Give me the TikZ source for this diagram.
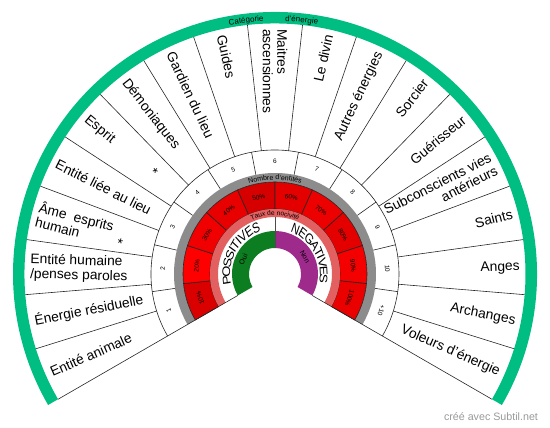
\documentclass[tikz,border=0pt]{standalone}
\usepackage{fontspec}
\setmainfont{Liberation Sans}
\usepackage{tikz}
\usetikzlibrary{decorations.text}

\definecolor{catgreen}{RGB}{0,190,130}
\definecolor{ouigreen}{RGB}{12,125,32}
\definecolor{nonpurple}{RGB}{158,42,140}
\definecolor{bandgray}{RGB}{140,140,140}
\definecolor{nocpink}{RGB}{226,96,96}

\begin{document}
\begin{tikzpicture}[x=1pt, y=1pt,
  thinline/.style={draw=black!85, line width=0.6pt},
  catlabel/.style={inner sep=1pt, font=\fontsize{13.8}{14.5}\selectfont},
  small/.style={inner sep=0.5pt, font=\fontsize{6.5}{7}\selectfont},
  bigletter/.style={inner sep=0pt, anchor=base, font=\fontsize{11}{12}\selectfont, yscale=1.3},
  arctext/.style={decorate, decoration={text along path, text align=center, text={#1}}}]
  \useasboundingbox (-275,-154) rectangle (275,274);
  % outer green band
  \fill[catgreen] (210:250.5) arc[start angle=210, end angle=-30, radius=250.5]
    -- (-30:262) arc[start angle=-30, end angle=210, radius=262] -- cycle;
  % category sectors (19)
  \foreach \i in {1,...,18}{
    \pgfmathsetmacro{\angA}{210-\i*240/19}
    \draw[thinline] (\angA:124) -- (\angA:250.5);
  }
  \draw[thinline] (210:124) arc[start angle=210, end angle=-30, radius=124];
  % number ring (11)
  \foreach \i in {1,...,10}{
    \pgfmathsetmacro{\angA}{210-\i*240/11}
    \draw[thinline] (\angA:101) -- (\angA:124);
  }
  % gray band
  \fill[bandgray] (210:92) arc[start angle=210, end angle=-30, radius=92]
    -- (-30:101) arc[start angle=-30, end angle=210, radius=101] -- cycle;
  % red sectors (10)
  \foreach \shade/\lbl [count=\i from 0] in {red!86!black/10\%, red/20\%, red!94!black/30\%,
      red!91!black/40\%, red!84!black/50\%, red!90!black/60\%, red!93!black/70\%,
      red!90!black/80\%, red!96!black/90\%, red!92!black/100\%}{
    \pgfmathsetmacro{\angA}{210-\i*24}
    \pgfmathsetmacro{\angB}{210-(\i+1)*24}
    \pgfmathsetmacro{\angM}{210-(\i+0.5)*24}
    \filldraw[thinline, fill=\shade] (\angA:65) -- (\angA:92)
      arc[start angle=\angA, end angle=\angB, radius=92] -- (\angB:65)
      arc[start angle=\angB, end angle=\angA, radius=65] -- cycle;
    \node[small, rotate=\angM-90] (pct\i) at (\angM:78.5) {\lbl};
  }
  % pink band
  \fill[nocpink] (210:57) arc[start angle=210, end angle=-30, radius=57]
    -- (-30:65) arc[start angle=-30, end angle=210, radius=65] -- cycle;
  % Oui / Non
  \fill[ouigreen] (210:26) arc[start angle=210, end angle=90, radius=26]
    -- (90:43) arc[start angle=90, end angle=210, radius=43] -- cycle;
  \fill[nonpurple] (90:26) arc[start angle=90, end angle=-30, radius=26]
    -- (-30:43) arc[start angle=-30, end angle=90, radius=43] -- cycle;
  \draw[thinline, draw=black!70] (90:26) -- (90:57);
  % fan edges
  \draw[thinline] (210:43) -- (210:250.5);
  \draw[thinline] (-30:43) -- (-30:250.5);

  % numbers
  \foreach \lbl [count=\i from 0] in {1,2,3,4,5,6,7,8,9,10,+10}{
    \pgfmathsetmacro{\ang}{210-(\i+0.5)*240/11}
    \node[small, rotate=\ang-90] (num\i) at (\ang:112.5) {\lbl};
  }
  % category labels, left half
  \foreach \lbl [count=\i from 0] in {{Entité animale}, {Énergie résiduelle},
      {Entité humaine\\/penses paroles}, {Âme~ esprits\\humain\hspace{39pt}*},
      {Entité liée au lieu}, {Esprit\hspace{49pt}*}, {Démoniaques},
      {Gardien du lieu}, {Guides}, {Maitres\\ascensionnes}}{
    \pgfmathsetmacro{\ang}{210-(\i+0.5)*240/19}
    \node[catlabel, anchor=west, align=left, rotate=\ang-180] (cat\i) at (\ang:246) {\lbl};
  }
  % category labels, right half
  \foreach \lbl [count=\i from 10] in {{Le divin}, {Autres énergies}, {Sorcier},
      {Guérisseur}, {Subconscients vies\\antérieurs}, {Saints}, {Anges},
      {Archanges}, {Voleurs d'énergie}}{
    \pgfmathsetmacro{\ang}{210-(\i+0.5)*240/19}
    \node[catlabel, anchor=east, align=right, rotate=\ang] (cat\i) at (\ang:246) {\lbl};
  }

  % texts along the rings
  \path[arctext={|\fontsize{8}{8}\selectfont|Catégorie}]
    (106.5:253) arc[start angle=106.5, end angle=86.5, radius=253];
  \path[arctext={|\fontsize{8}{8}\selectfont|d'énergie}]
    (94:253) arc[start angle=94, end angle=74, radius=253];
  \path[arctext={|\fontsize{7}{7}\selectfont|Nombre d'entités}]
    (125:94) arc[start angle=125, end angle=55, radius=94];
  \path[arctext={|\fontsize{6.6}{7}\selectfont|Taux de nocivité}]
    (130:58.5) arc[start angle=130, end angle=50, radius=58.5];
  % POSSITIVES / NEGATIVES, letter by letter
  \foreach \ch/\ang [count=\i] in {P/186.97, O/176.85, S/166.73, S/157.39, I/150.78,
      T/144.55, I/138.33, V/131.71, E/122.37, S/113.03}
    \node[bigletter, rotate=\ang-90] (pos\i) at (\ang:45) {\ch};
  \foreach \ch/\ang [count=\i] in {N/65.03, E/55.30, G/45.18, A/35.06, T/26.11,
      I/19.89, V/13.27, E/3.93, S/-5.41}
    \node[bigletter, rotate=\ang-90] (neg\i) at (\ang:45) {\ch};
  \node[small, font=\fontsize{7}{7}\selectfont, rotate=65] (oui) at (155:35) {Oui};
  \node[small, font=\fontsize{7}{7}\selectfont, rotate=-60] (non) at (30:34.5) {Non};

  % credit
  \node[text=black!40, font=\fontsize{10.7}{11}\selectfont] (credit) at (216,-143) {créé avec Subtil.net};
\end{tikzpicture}
\end{document}
